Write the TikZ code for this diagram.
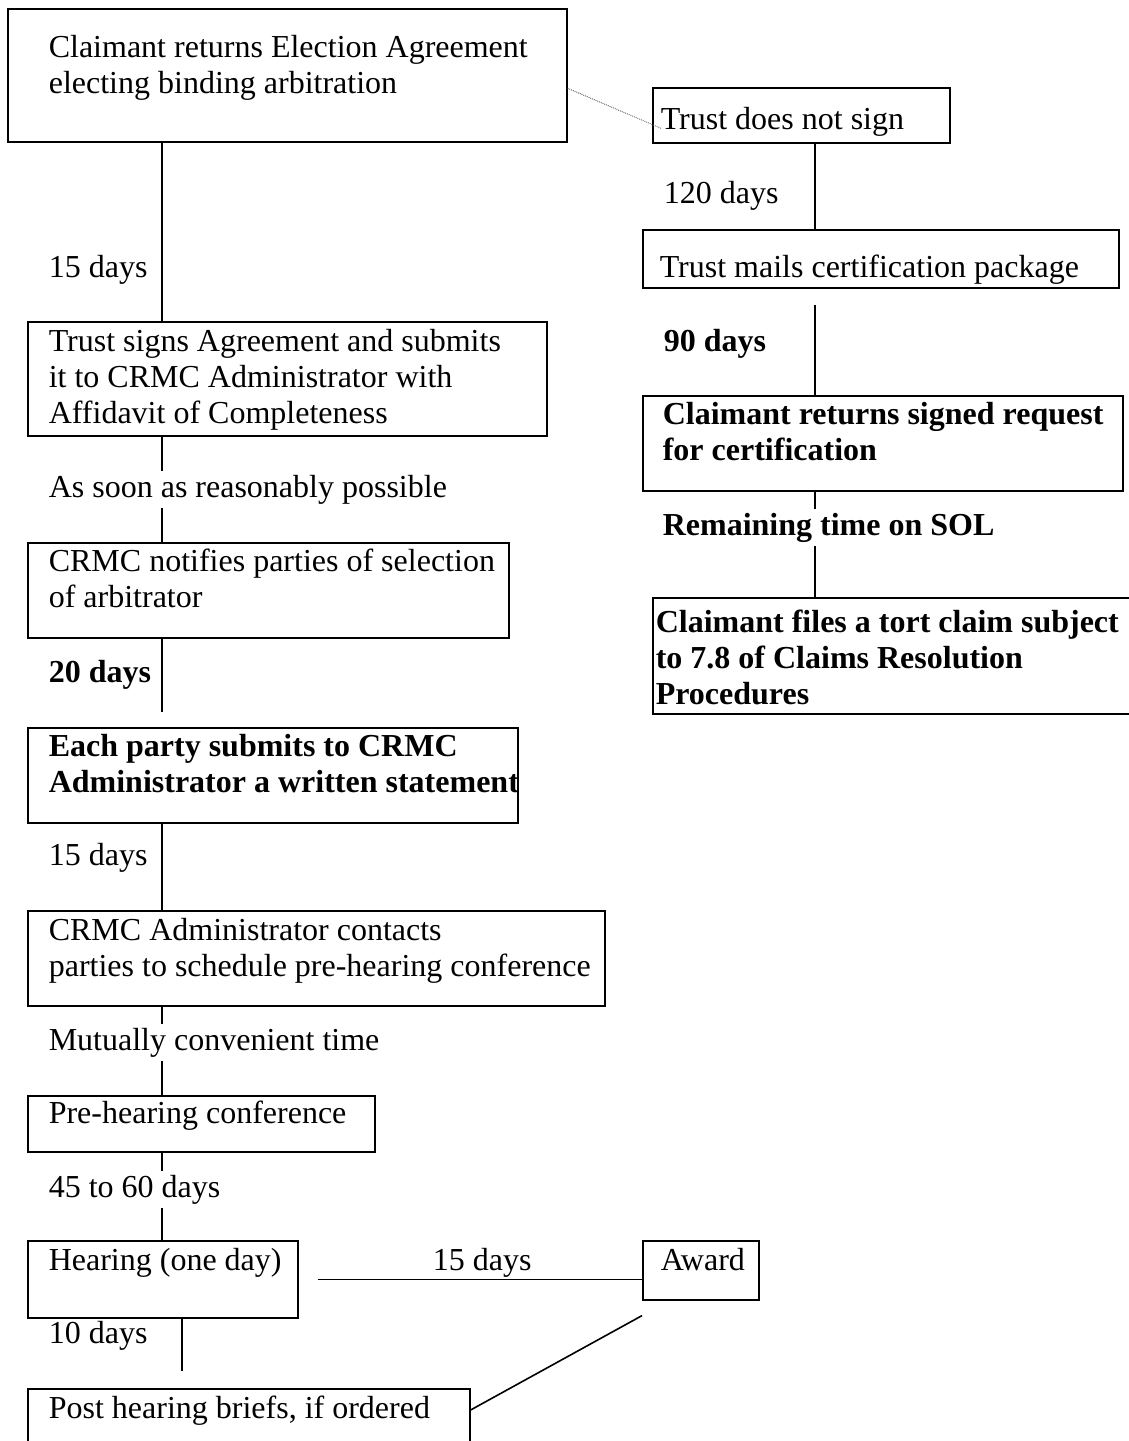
\documentclass[tikz,border=0pt]{standalone}
\usepackage{fontspec}
\setmainfont{Liberation Serif}
\usetikzlibrary{calc, positioning}
\newcommand{\flowsize}{\fontsize{32}{36}\selectfont}
\tikzset{
  % one unit = one pixel of the page, y running downwards
  every picture/.append style = {x=1pt, y=-1pt, line width=1.6pt},
  stepbox/.style  = {draw, line width=1.6pt, anchor=north west, inner sep=0pt},
  % texts sit on the baseline of their last line
  txt/.style      = {anchor=base west, inner sep=0pt, align=left, font=\flowsize},
  btxt/.style     = {txt, font=\flowsize\bfseries},
  gap/.style      = {fill=white, inner xsep=0pt, inner ysep=4pt},
  link/.style     = {line width=1.6pt},
  hint/.style     = {densely dotted, line width=0.9pt, black!65},
}

\begin{document}
\begin{tikzpicture}
  \useasboundingbox (0,0) rectangle (1129,1441);
  \coordinate (lane) at (162,0);
  \coordinate (blane) at (182,0);
  \coordinate (rlane) at (815,0);
  % left column boxes
  \node[stepbox, minimum width=559pt, minimum height=133pt] (claim) at (7,8) {};
  \node[stepbox, minimum width=519pt, minimum height=114pt] (signs) at (27,321) {};
  \node[stepbox, minimum width=481pt, minimum height=95pt] (notify) at (27,542) {};
  \node[stepbox, minimum width=490pt, minimum height=95pt] (statement) at (27,727) {};
  \node[stepbox, minimum width=577pt, minimum height=95pt] (contact) at (27,910) {};
  \node[stepbox, minimum width=347pt, minimum height=56pt] (prehear) at (27,1095) {};
  \node[stepbox, minimum width=270pt, minimum height=77pt] (hearing) at (27,1240) {};
  \node[stepbox, minimum width=116pt, minimum height=59pt] (award) at (642,1240) {};
  \node[stepbox, minimum width=442pt, minimum height=90pt] (briefs) at (27,1388) {};
  % right column boxes
  \node[stepbox, minimum width=297pt, minimum height=55pt] (nosign) at (652,87) {};
  \node[stepbox, minimum width=476pt, minimum height=58pt] (mails) at (642,229) {};
  \node[stepbox, minimum width=480pt, minimum height=95pt] (request) at (642,395) {};
  \node[stepbox, minimum width=482pt, minimum height=116pt] (tort) at (652,597) {};
  % connectors
  \draw[link] (claim.south -| lane) -- (signs.north -| lane);
  \draw[link] (signs.south -| lane) -- (notify.north -| lane);
  \draw[link, shorten >=15pt] (notify.south -| lane) -- (statement.north -| lane);
  \draw[link] (statement.south -| lane) -- (contact.north -| lane);
  \draw[link] (contact.south -| lane) -- (prehear.north -| lane);
  \draw[link] (prehear.south -| lane) -- (hearing.north -| lane);
  \draw[link, shorten >=17pt] (hearing.south -| blane) -- (briefs.north -| blane);
  \draw[link, shorten <=19pt] (hearing.east) -- (hearing.east -| award.west);
  \draw[link] ([yshift=-15pt]award.south west) -- ([yshift=-22pt]briefs.north east);
  \draw[hint] ([yshift=-13pt]claim.east) -- ([xshift=9pt,yshift=-13pt]nosign.west);
  \draw[link] (nosign.south -| rlane) -- (mails.north -| rlane);
  \draw[link, shorten <=16pt] (mails.south -| rlane) -- (request.north -| rlane);
  \draw[link] (request.south -| rlane) -- (tort.north -| rlane);
  % box texts
  \node[txt] (claim-t) at (48,93) {Claimant returns Election Agreement\\electing binding arbitration};
  \node[txt] (signs-t) at (48,423) {Trust signs Agreement and submits\\it to CRMC Administrator with\\Affidavit of Completeness};
  \node[txt] (notify-t) at (48,607) {CRMC notifies parties of selection\\of arbitrator};
  \node[btxt] (statement-t) at (48,792) {Each party submits to CRMC\\Administrator a written statement};
  \node[txt] (contact-t) at (48,976) {CRMC Administrator contacts\\parties to schedule pre-hearing conference};
  \node[txt] (prehear-t) at (48,1123) {Pre-hearing conference};
  \node[txt] (hearing-t) at (48,1270) {Hearing (one day)};
  \node[txt] (award-t) at (660,1270) {Award};
  \node[txt] (briefs-t) at (48,1418) {Post hearing briefs, if ordered};
  \node[txt] (nosign-t) at (660,129) {Trust does not sign};
  \node[txt] (mails-t) at (659,277) {Trust mails certification package};
  \node[btxt] (request-t) at (662,460) {Claimant returns signed request\\for certification};
  \node[btxt] (tort-t) at (655,704) {Claimant files a tort claim subject\\to 7.8 of Claims Resolution\\Procedures};
  % time labels
  \node[txt] (d15a) at (48,277) {15 days};
  \node[txt, gap] (asap) at (48,497) {As soon as reasonably possible};
  \node[btxt] (d20) at (48,682) {20 days};
  \node[txt] (d15b) at (48,865) {15 days};
  \node[txt, gap] (mutual) at (48,1050) {Mutually convenient time};
  \node[txt, gap] (d45) at (48,1197) {45 to 60 days};
  \node[txt] (d10) at (48,1343) {10 days};
  \node[txt] (d15c) at (432,1270) {15 days};
  \node[txt] (d120) at (663,203) {120 days};
  \node[btxt] (d90) at (663,351) {90 days};
  \node[btxt, gap] (sol) at (662,535) {Remaining time on SOL};
\end{tikzpicture}
\end{document}
